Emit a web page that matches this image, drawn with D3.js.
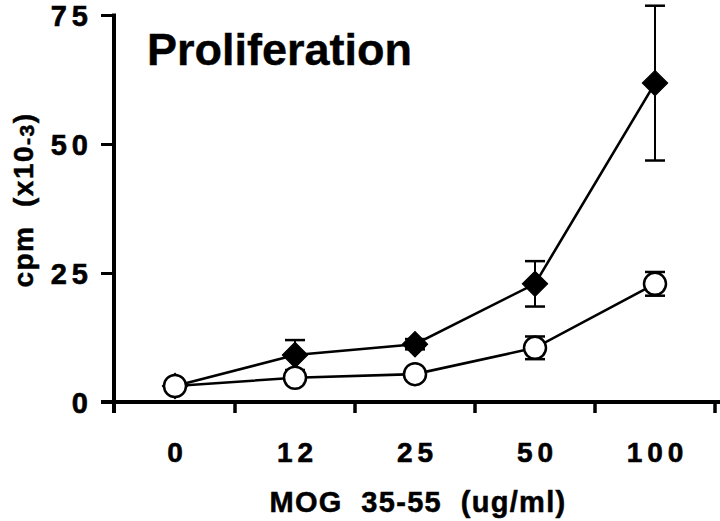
<!DOCTYPE html>
<html><head><meta charset="utf-8">
<script src="https://cdn.jsdelivr.net/npm/d3@7"></script>
<style>
html,body{margin:0;padding:0;background:#fff;}
svg{display:block;}
text{font-family:"Liberation Sans",Arial,Helvetica,sans-serif;font-weight:bold;fill:#000;}
</style></head>
<body>
<script>
const categories = ["0", "12", "25", "50", "100"];
const diamondValues = [3.1, 9.1, 11.2, 22.9, 61.8];
const diamondErrors = [0.5, 2.9, 1.0, 4.4, 15.0];
const circleValues = [3.1, 4.7, 5.4, 10.5, 22.9];
const circleErrors = [0.5, 1.0, 1.0, 2.2, 2.3];
const yTicks = [0, 25, 50, 75];
const titleText = "Proliferation";
const xTitle = "MOG  35-55  (ug/ml)";

const W = 720, H = 521;
const svg = d3.select("body").append("svg").attr("width", W).attr("height", H);

const x = d3.scaleBand().domain(categories).range([115, 715]);
const y = d3.scaleLinear().domain([0, 75]).range([402, 15]);
const cx = c => x(c) + x.bandwidth() / 2;

// Y axis ticks + labels
const yAxis = d3.axisLeft(y).tickValues(yTicks).tickSize(13).tickPadding(0);
const gy = svg.append("g").attr("transform", "translate(114,0)").call(yAxis);
gy.select(".domain").remove();
gy.selectAll(".tick line").attr("stroke", "#000").attr("stroke-width", 3);
gy.selectAll(".tick text").attr("font-size", 29).attr("letter-spacing", 5)
  .attr("x", -21).attr("dy", 10.5).attr("text-anchor", "end")
  .attr("stroke", "#000").attr("stroke-width", 0.6);
svg.append("line").attr("x1", 114).attr("x2", 114)
  .attr("y1", y(75) - 1.5).attr("y2", y(0) + 11)
  .attr("stroke", "#000").attr("stroke-width", 4);

// X axis line + ticks at band boundaries
svg.append("line").attr("x1", 101).attr("x2", 720)
  .attr("y1", y(0)).attr("y2", y(0))
  .attr("stroke", "#000").attr("stroke-width", 4);
const bounds = categories.map(c => x(c)).concat([x.range()[1]]).slice(1);
svg.selectAll(".xt").data(bounds).enter().append("line")
  .attr("x1", d => d).attr("x2", d => d)
  .attr("y1", y(0)).attr("y2", y(0) + 11)
  .attr("stroke", "#000").attr("stroke-width", 3.5);
const xAxis = d3.axisBottom(x).tickSize(0).tickPadding(0);
const gx = svg.append("g").call(xAxis);
gx.select(".domain").remove();
gx.selectAll(".tick line").remove();
gx.selectAll(".tick text").attr("font-size", 28).attr("letter-spacing", 5)
  .attr("y", 462).attr("dy", 0).attr("dx", 2.5).attr("text-anchor", "middle")
  .attr("stroke", "#000").attr("stroke-width", 0.6);

// Axis titles
svg.append("text").attr("x", 418).attr("y", 512).attr("text-anchor", "middle")
  .attr("font-size", 29).attr("letter-spacing", 1.3).attr("stroke", "#000").attr("stroke-width", 0.5)
  .style("white-space", "pre").text(xTitle);

const yl = svg.append("text").attr("transform", "translate(33,200) rotate(-90)")
  .attr("text-anchor", "middle").attr("font-size", 28).attr("letter-spacing", 1.5)
  .attr("stroke", "#000").attr("stroke-width", 0.5).style("white-space", "pre");
yl.append("tspan").text("cpm  (x10");
yl.append("tspan").attr("font-size", 21).attr("dy", 1).text("-3");
yl.append("tspan").attr("dy", -1).text(")");

svg.append("text").attr("x", 147).attr("y", 65).attr("font-size", 45)
  .attr("stroke", "#000").attr("stroke-width", 0.4).text(titleText);

// Series
const line = d3.line().x((d, i) => cx(categories[i])).y(d => y(d));
function drawErrors(vals, errs) {
  const g = svg.append("g");
  vals.forEach((v, i) => {
    const px = cx(categories[i]);
    const top = y(v + errs[i]), bot = y(v - errs[i]);
    g.append("line").attr("x1", px).attr("x2", px).attr("y1", top).attr("y2", bot)
      .attr("stroke", "#000").attr("stroke-width", 2);
    [top, bot].forEach(yy => g.append("line").attr("x1", px - 10).attr("x2", px + 10)
      .attr("y1", yy).attr("y2", yy).attr("stroke", "#000").attr("stroke-width", 2.5));
  });
}
svg.append("path").datum(diamondValues).attr("d", line).attr("fill", "none")
  .attr("stroke", "#000").attr("stroke-width", 2.6);
svg.append("path").datum(circleValues).attr("d", line).attr("fill", "none")
  .attr("stroke", "#000").attr("stroke-width", 2.6);
drawErrors(diamondValues, diamondErrors);
drawErrors(circleValues, circleErrors);

svg.selectAll(".dm").data(diamondValues).enter().append("path")
  .attr("transform", (d, i) => `translate(${cx(categories[i])},${y(d)}) rotate(45)`)
  .attr("d", "M-9,-9H9V9H-9Z").attr("fill", "#000").attr("stroke", "#000").attr("stroke-width", 1);
svg.selectAll(".cm").data(circleValues).enter().append("circle")
  .attr("cx", (d, i) => cx(categories[i])).attr("cy", d => y(d)).attr("r", 11)
  .attr("fill", "#fff").attr("stroke", "#000").attr("stroke-width", 2.5);
</script>
</body></html>
